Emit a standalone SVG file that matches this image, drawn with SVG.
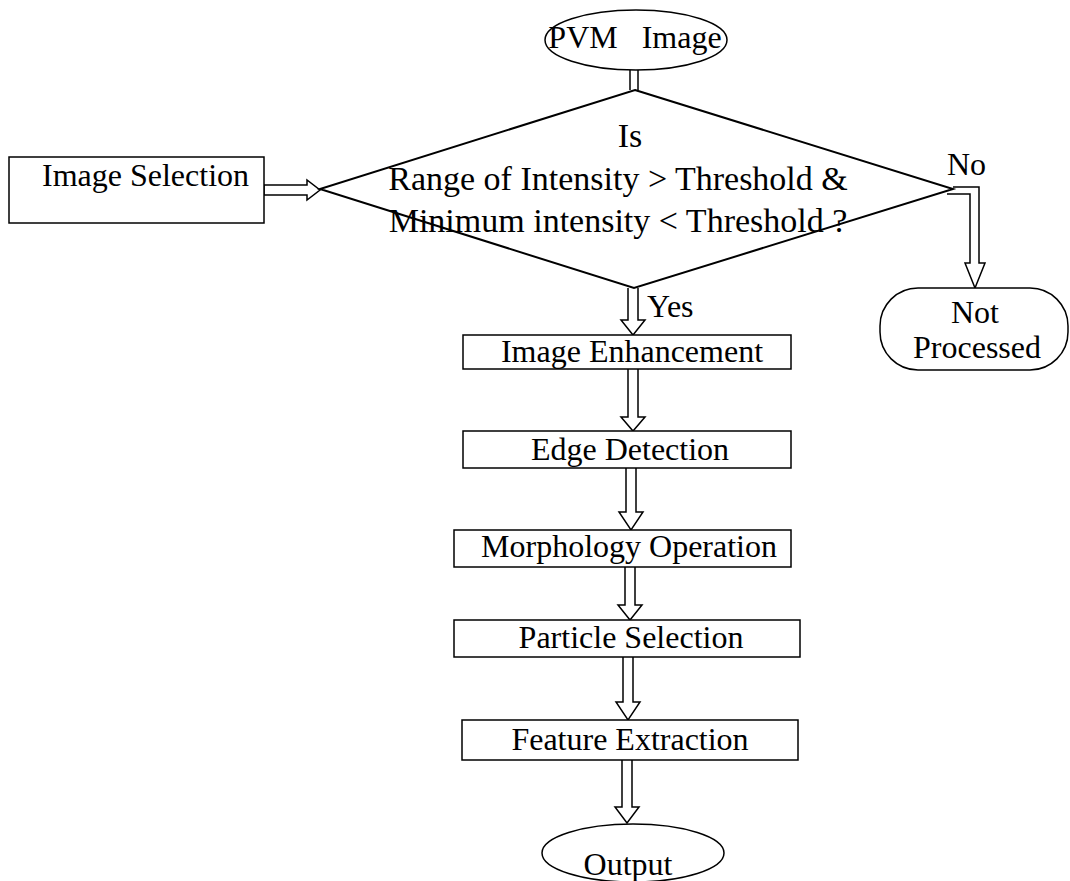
<svg xmlns="http://www.w3.org/2000/svg" width="1070" height="881" viewBox="0 0 1070 881">
<style>
text{font-family:"Liberation Serif","Times New Roman",serif;font-size:32px;fill:#000}
.q{font-size:34px}
.n{fill:#fff;stroke:#000;stroke-width:1.5}
.d{fill:#fff;stroke:#000;stroke-width:2}
.a{fill:#fff;stroke:#000;stroke-width:1.5;stroke-linejoin:miter}
.l{fill:none;stroke:#000;stroke-width:1.5}
</style>
<rect width="1070" height="881" fill="#fff"/>
<g id="connectors">
<path class="l" d="M630,70 V90 M638,70 V90"/>
<path class="a" d="M264,185 H307 V180 L320,190 L307,200 V195 H264 Z"/>
<path class="a" d="M628,288 V320 H621 L633,335 L645,320 H638 V288"/>
<path class="a" d="M628,369 V417 H621 L633,431 L645,417 H638 V369"/>
<path class="a" d="M626,468 V512 H619 L631,530 L643,512 H636 V468"/>
<path class="a" d="M625,567 V605 H618 L630,620 L642,605 H635 V567"/>
<path class="a" d="M623,657 V702 H616 L628,720 L640,702 H633 V657"/>
<path class="a" d="M622,760 V807 H615 L627,823 L639,807 H632 V760"/>
<path class="a" d="M947,194 H970 V263 H965 L975,288 L985,263 H979 V187 H953"/>
</g>
<g id="pvm-image">
<ellipse class="n" cx="636" cy="40" rx="91" ry="30"/>
<text x="635" y="48" text-anchor="middle" xml:space="preserve">PVM   Image</text>
</g>
<g id="image-selection">
<rect class="n" x="9" y="157" width="255" height="66"/>
<text x="42" y="186">Image Selection</text>
</g>
<g id="decision">
<polygon class="d" points="635,90 953,189 634,288 320,189"/>
<text class="q" x="630" y="147" text-anchor="middle">Is</text>
<text class="q" x="618" y="190" text-anchor="middle">Range of Intensity &gt; Threshold &amp;</text>
<text class="q" x="618" y="232" text-anchor="middle">Minimum intensity &lt; Threshold ?</text>
</g>
<text id="label-no" x="947" y="175">No</text>
<text id="label-yes" x="647" y="317">Yes</text>
<g id="not-processed">
<rect class="n" x="880" y="288" width="188" height="82" rx="38" ry="38"/>
<text x="975" y="323" text-anchor="middle">Not</text>
<text x="977" y="358" text-anchor="middle">Processed</text>
</g>
<g id="image-enhancement">
<rect class="n" x="463" y="335" width="328" height="34"/>
<text x="632" y="362" text-anchor="middle">Image Enhancement</text>
</g>
<g id="edge-detection">
<rect class="n" x="463" y="431" width="328" height="37"/>
<text x="630" y="460" text-anchor="middle">Edge Detection</text>
</g>
<g id="morphology-operation">
<rect class="n" x="454" y="530" width="337" height="37"/>
<text x="629" y="557" text-anchor="middle">Morphology Operation</text>
</g>
<g id="particle-selection">
<rect class="n" x="454" y="620" width="346" height="37"/>
<text x="631" y="648" text-anchor="middle">Particle Selection</text>
</g>
<g id="feature-extraction">
<rect class="n" x="462" y="720" width="336" height="40"/>
<text x="630" y="750" text-anchor="middle">Feature Extraction</text>
</g>
<g id="output">
<ellipse class="n" cx="633" cy="853" rx="91" ry="29"/>
<text x="628" y="875" text-anchor="middle">Output</text>
</g>
</svg>
